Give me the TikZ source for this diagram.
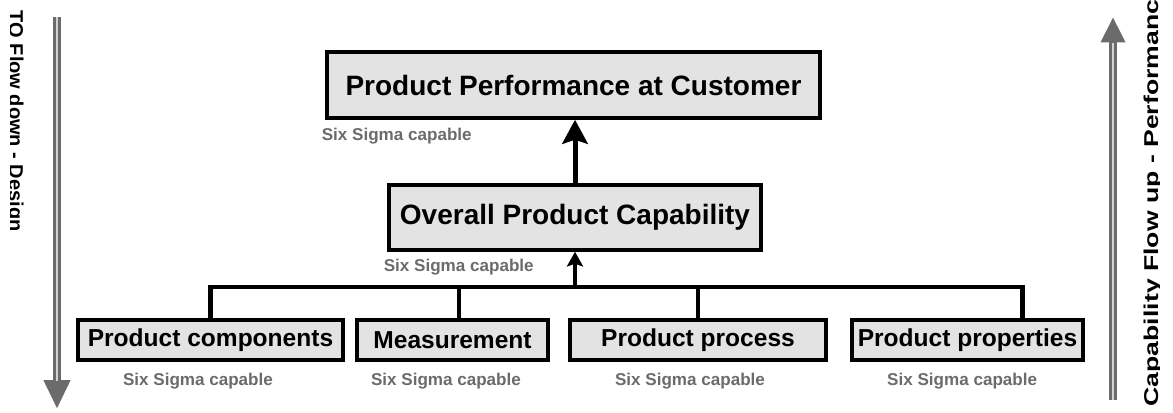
\documentclass[tikz,border=0pt]{standalone}
\usepackage{fontspec}
\setmainfont{Liberation Sans}
\usetikzlibrary{arrows.meta, positioning}

\begin{document}
\begin{tikzpicture}[x=0.75pt, y=-0.75pt, thick]
    \tikzstyle{box}=[rectangle, draw=black, fill=black!11, inner sep=0pt]
    \tikzstyle{bigbox}=[box, line width=2.6pt, minimum height=49.5pt,
                        font=\fontsize{21}{24}\selectfont\bfseries]
    \tikzstyle{smallbox}=[box, line width=2.3pt, minimum height=30pt,
                          font=\fontsize{18.4}{21}\selectfont\bfseries]
    \tikzstyle{sigma}=[inner sep=0pt, text=black!58,
                       font=\fontsize{12.8}{15}\selectfont\bfseries]
    \tikzstyle{link}=[draw=black, line width=3pt]
    \tikzstyle{flow}=[draw=black!58, line width=6pt]
    \tikzstyle{side}=[inner sep=0pt, font=\fontsize{15}{18}\selectfont\bfseries]

    \useasboundingbox (0,0) rectangle (1173,412);

    \node[bigbox, minimum width=369.75pt] (perf) at (573.5,85) {Product Performance at Customer};
    \node[bigbox, minimum width=279pt, minimum height=48.75pt] (overall) at (575,217.5) {Overall Product Capability};

    \node[smallbox, minimum width=198.75pt] (comp) at (210.5,340) {Product components};
    \node[smallbox, minimum width=143.25pt] (meas) at (452.5,340) {Measurement};
    \node[smallbox, minimum width=192pt]    (proc) at (698,340)   {Product process};
    \node[smallbox, minimum width=173.25pt] (prop) at (967.5,340) {Product properties};

    \node[sigma, below right=6pt and -3pt of perf.south west]      (perfcap)    {Six Sigma capable};
    \node[sigma, below right=5.5pt and -3pt of overall.south west] (overallcap) {Six Sigma capable};
    \node[sigma, below=8.5pt of comp, xshift=-9.4pt] (compcap) {Six Sigma capable};
    \node[sigma, below=8.5pt of meas, xshift=-4.9pt] (meascap) {Six Sigma capable};
    \node[sigma, below=8.5pt of proc, xshift=-6pt]   (proccap) {Six Sigma capable};
    \node[sigma, below=8.5pt of prop, xshift=-4pt]   (propcap) {Six Sigma capable};

    \coordinate (bus) at (575,287);
    \draw[link, line width=3.6pt] (comp.north) |- (bus) -| ([xshift=41pt]prop.north);
    \draw[link] ([xshift=4.5pt]meas.north) -- ([xshift=4.5pt]meas.north |- bus);
    \draw[link] (proc.north) -- (proc.north |- bus);
    \draw[link, -{Stealth[length=11pt, width=12pt, inset=2pt]}] (bus) -- (bus |- overall.south);
    \draw[link, line width=3.75pt, -{Stealth[length=18pt, width=19pt, inset=3pt]}]
        (overall.north) -- (overall.north |- perf.south);

    \coordinate (dtop) at (57,17);
    \coordinate (dneck) at (57,381);
    \coordinate (dtip) at (57,409);
    \draw[flow, -{Triangle[length=21.75pt, width=18.75pt]}] (dtop) -- (dtip);
    \draw[black!18, line width=1.1pt] (dtop) -- (dneck);

    \coordinate (ubot) at (1113,400);
    \coordinate (uneck) at (1113,43);
    \coordinate (utip) at (1113,17);
    \draw[flow, -{Triangle[length=19pt, width=17.25pt]}] (ubot) -- (utip);
    \draw[black!18, line width=1.1pt] (ubot) -- (uneck);

    \begin{scope}
        \clip (10,0) rectangle (40,412);
        \node[side, rotate=-90, anchor=base west] (design) at (9,10) {TQ Flow down - Design};
    \end{scope}
    \begin{scope}
        \clip (1125,0) rectangle (1159,412);
        \node[side, rotate=90, xscale=1.33, anchor=base west] (perform) at (1158,407) {Capability Flow up - Performance};
    \end{scope}
\end{tikzpicture}
\end{document}
